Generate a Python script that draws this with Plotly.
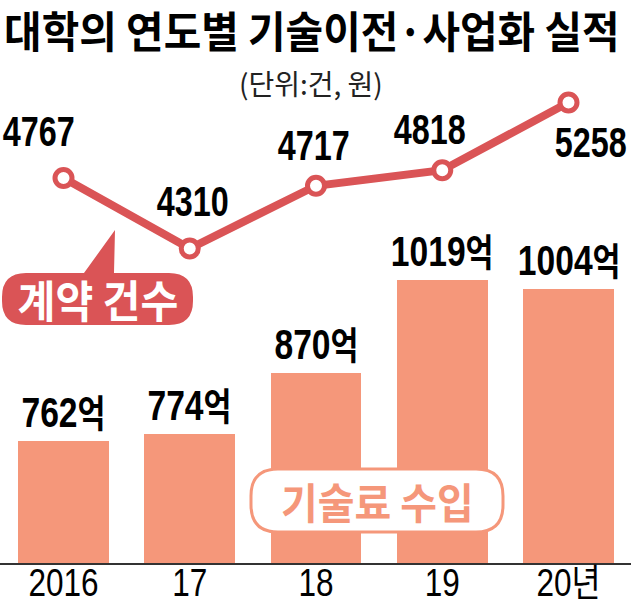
import json
import plotly.graph_objects as go

# ---- data ----
years = ["2016", "17", "18", "19", "20년"]
contracts = [4767, 4310, 4717, 4818, 5258]          # 계약 건수
revenue = [762, 774, 870, 1019, 1004]               # 기술료 수입 (억 원)

title_text = "대학의 연도별 기술이전·사업화 실적"
unit_text = "(단위:건, 원)"
line_name = "계약 건수"
bar_name = "기술료 수입"

# ---- style ----
W, H = 631, 608
BOTTOM = 563          # pixel row of the x axis line
RED = "#DA5456"
SALMON = "#F5977A"
NUM_FONT = "Liberation Sans, Arial, Noto Sans CJK KR"
KR_FONT = "Noto Sans CJK KR"

def X(px):
    return px / W

def Y(px):
    return 1 - px / BOTTOM

xs = list(range(len(years)))

fig = go.Figure()
fig.add_trace(go.Bar(
    x=xs, y=revenue, marker=dict(color=SALMON, line=dict(width=0)),
    width=0.72, yaxis="y", hoverinfo="skip"))
fig.add_trace(go.Scatter(
    x=xs, y=contracts, yaxis="y2", mode="lines+markers",
    line=dict(color=RED, width=8),
    marker=dict(size=17, color="white", line=dict(color=RED, width=5)),
    hoverinfo="skip"))

annotations = []
hscale = []   # horizontal condensing per annotation: (scale, anchor)
# line value labels (pixel offsets from each point)
line_off = [(-25, 47), (3, 47), (-3, 40), (-13, 41), (22, -40)]
for i, v in enumerate(contracts):
    dx, dy = line_off[i]
    annotations.append(dict(
        x=i, y=v, xref="x", yref="y2", text=f"<b>{v}</b>", showarrow=False,
        xanchor="center", yanchor="middle", xshift=dx, yshift=dy,
        font=dict(family=NUM_FONT, size=42, color="black")))
    hscale.append([0.77, "c"])
# bar value labels
for i, v in enumerate(revenue):
    annotations.append(dict(
        x=i, y=v, xref="x", yref="y",
        text=f"<b>{v}<span style='font-size:38px'>억</span></b>",
        showarrow=False, xanchor="center", yanchor="bottom", yshift=3,
        font=dict(family=NUM_FONT, size=42, color="black")))
    hscale.append([0.8, "c"])

# title & unit
annotations.append(dict(
    x=X(2), y=Y(29), xref="paper", yref="paper", text=f"<b>{title_text}</b>",
    showarrow=False, xanchor="left", yanchor="middle",
    font=dict(family=KR_FONT, size=43, color="black")))
hscale.append([0.95, "l"])
annotations.append(dict(
    x=X(311), y=Y(83), xref="paper", yref="paper", text=unit_text,
    showarrow=False, xanchor="center", yanchor="middle",
    font=dict(family=KR_FONT, size=28, color="#222")))
hscale.append([1.0, "c"])
# callout texts
annotations.append(dict(
    x=X(98), y=Y(299), xref="paper", yref="paper", text=f"<b>{line_name}</b>",
    showarrow=False, xanchor="center", yanchor="middle",
    font=dict(family=KR_FONT, size=44, color="white")))
hscale.append([0.935, "c"])
annotations.append(dict(
    x=X(377), y=Y(500), xref="paper", yref="paper", text=f"<b>{bar_name}</b>",
    showarrow=False, xanchor="center", yanchor="middle",
    font=dict(family=KR_FONT, size=42, color=SALMON)))
hscale.append([0.95, "c"])


def rrect_path(x0, y0, x1, y1, r, tail=None):
    p = lambda x, y: f"{X(x):.5f},{Y(y):.5f}"
    s = f"M {p(x0 + r, y0)} "
    if tail:
        for tx, ty in tail:
            s += f"L {p(tx, ty)} "
    s += (f"L {p(x1 - r, y0)} Q {p(x1, y0)} {p(x1, y0 + r)} "
          f"L {p(x1, y1 - r)} Q {p(x1, y1)} {p(x1 - r, y1)} "
          f"L {p(x0 + r, y1)} Q {p(x0, y1)} {p(x0, y1 - r)} "
          f"L {p(x0, y0 + r)} Q {p(x0, y0)} {p(x0 + r, y0)} Z")
    return s

shapes = [
    dict(type="path", xref="paper", yref="paper", layer="above",
         path=rrect_path(2, 273, 193, 325, 24,
                         tail=[(84, 273), (115, 230), (114, 273)]),
         fillcolor=RED, line=dict(width=0)),
    dict(type="path", xref="paper", yref="paper", layer="above",
         path=rrect_path(251, 469, 503, 532, 27),
         fillcolor="white", line=dict(color=SALMON, width=3)),
]

fig.update_layout(
    width=W, height=H, margin=dict(l=0, r=0, t=0, b=H - BOTTOM),
    paper_bgcolor="white", plot_bgcolor="white", showlegend=False,
    bargap=0,
    xaxis=dict(range=[-63.5 / 126.25, (W - 63.5) / 126.25],
               tickvals=xs, ticktext=years, ticks="", showgrid=False,
               zeroline=False, showline=True, linecolor="#333", linewidth=1.5,
               tickfont=dict(family=NUM_FONT, size=38, color="black"),
               ticklabelstandoff=-14,
               automargin=False, fixedrange=True),
    yaxis=dict(range=[567.3, 1465.9], visible=False, showgrid=False,
               automargin=False, fixedrange=True),
    yaxis2=dict(range=[2267.5, 5923.4], overlaying="y", visible=False,
                showgrid=False, automargin=False, fixedrange=True),
    annotations=annotations, shapes=shapes,
)

post = """
document.body.style.margin = '0';
(function(){
  var gd = document.getElementById('{plot_id}');
  var scales = %s;
  function squeeze(el, s, anchor){
    if (!el || s === 1) return;
    var b = el.getBBox();
    var cx = anchor === 'l' ? b.x : b.x + b.width / 2;
    var old = el.getAttribute('transform') || '';
    el.setAttribute('transform', old + ' translate(' + cx + ',0) scale(' + s + ',1) translate(' + (-cx) + ',0)');
  }
  gd.querySelectorAll('.annotation').forEach(function(a){
    var i = parseInt(a.getAttribute('data-index'));
    var sc = scales[i];
    if (sc) squeeze(a.querySelector('text'), sc[0], sc[1]);
  });
  gd.querySelectorAll('.xtick text').forEach(function(t){ squeeze(t, 0.83, 'c'); });
})();
""" % json.dumps(hscale)

fig.write_html("out.html", config={"displayModeBar": False}, post_script=post)
